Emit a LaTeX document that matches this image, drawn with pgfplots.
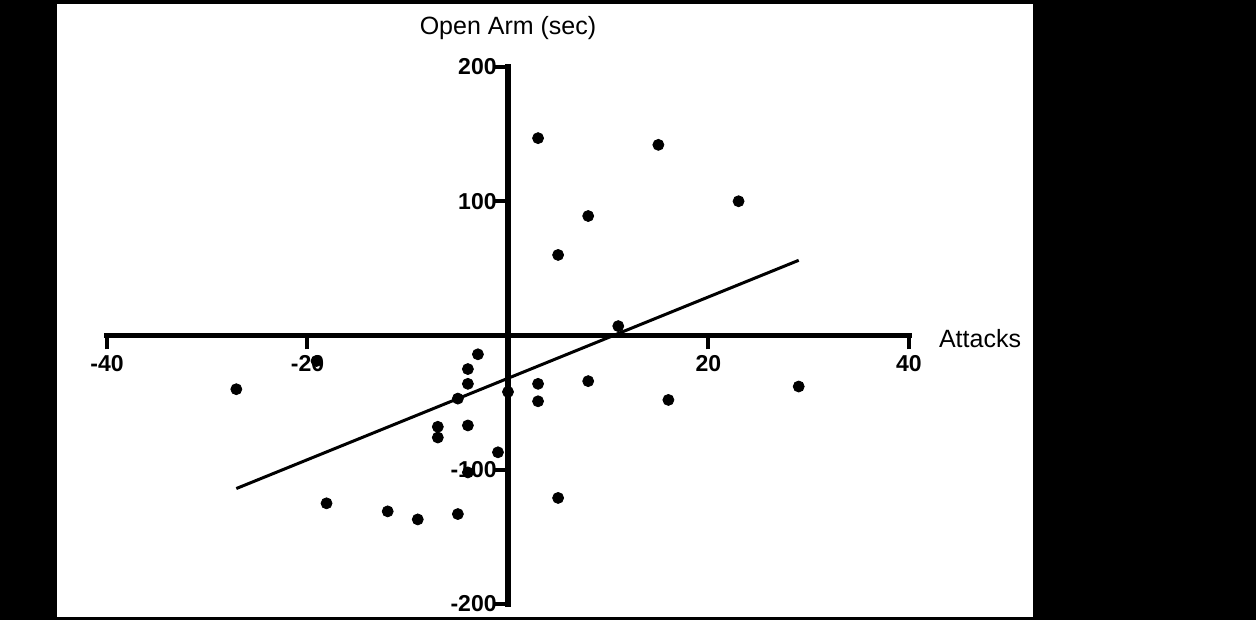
\documentclass[border=0pt]{standalone}
\usepackage{fontspec}
\setmainfont{Liberation Sans}
\usepackage{pgfplots}
\pgfplotsset{compat=1.18}
\begin{document}
\begin{tikzpicture}
% page background: black frame with white panel (1px = 0.5pt)
\fill[black] (-53.5pt,-8pt) rectangle (574.5pt,302pt);
\fill[white] (-25pt,-6.5pt) rectangle (463pt,300pt);
\begin{axis}[
  at={(0,0)}, anchor=south west,
  scale only axis, width=401pt, height=268.5pt,
  xmin=-40, xmax=40, ymin=-200, ymax=200,
  axis lines=middle,
  axis line style={-, line width=2.8pt, line cap=rect},
  xtick={-40,-20,20,40}, xticklabels={-40,-20,20,40},
  ytick={-200,-100,100,200}, yticklabels={-200,-100,100,200},
  tick style={line width=2pt, black},
  major tick length=7pt,
  tick align=outside,
  ticklabel style={font=\fontsize{11.5}{13}\selectfont\bfseries, inner sep=0pt},
  xticklabel style={anchor=north, yshift=-3pt},
  yticklabel style={anchor=east, xshift=1.5pt},
  clip=false,
  xlabel={Attacks}, ylabel={Open Arm (sec)},
  label style={font=\fontsize{12.5}{14}\selectfont},
  xlabel style={at={(axis cs:40,0)}, anchor=west, xshift=11.5pt, yshift=-1.5pt},
  ylabel style={at={(axis cs:0,200)}, anchor=south, yshift=10pt},
]
\addplot[only marks, mark=*, mark size=2.75pt, black] coordinates {
(3,147) (15,142) (23,100) (8,89) (5,60) (11,7)
(-3,-14) (-19.1,-19) (-27.1,-40)
(-4,-25) (-4,-36) (-5,-47) (0,-42)
(3,-36) (3,-49) (8,-34) (16,-48) (29,-38)
(-7,-68) (-7,-76) (-4,-67) (-1,-87) (-4,-102)
(-18.1,-125) (-12,-131) (-9,-137) (-5,-133) (5,-121)
};
\addplot[black, line width=1.5pt] coordinates {(-27.1,-114) (29,56)};
\end{axis}
\end{tikzpicture}
\end{document}
